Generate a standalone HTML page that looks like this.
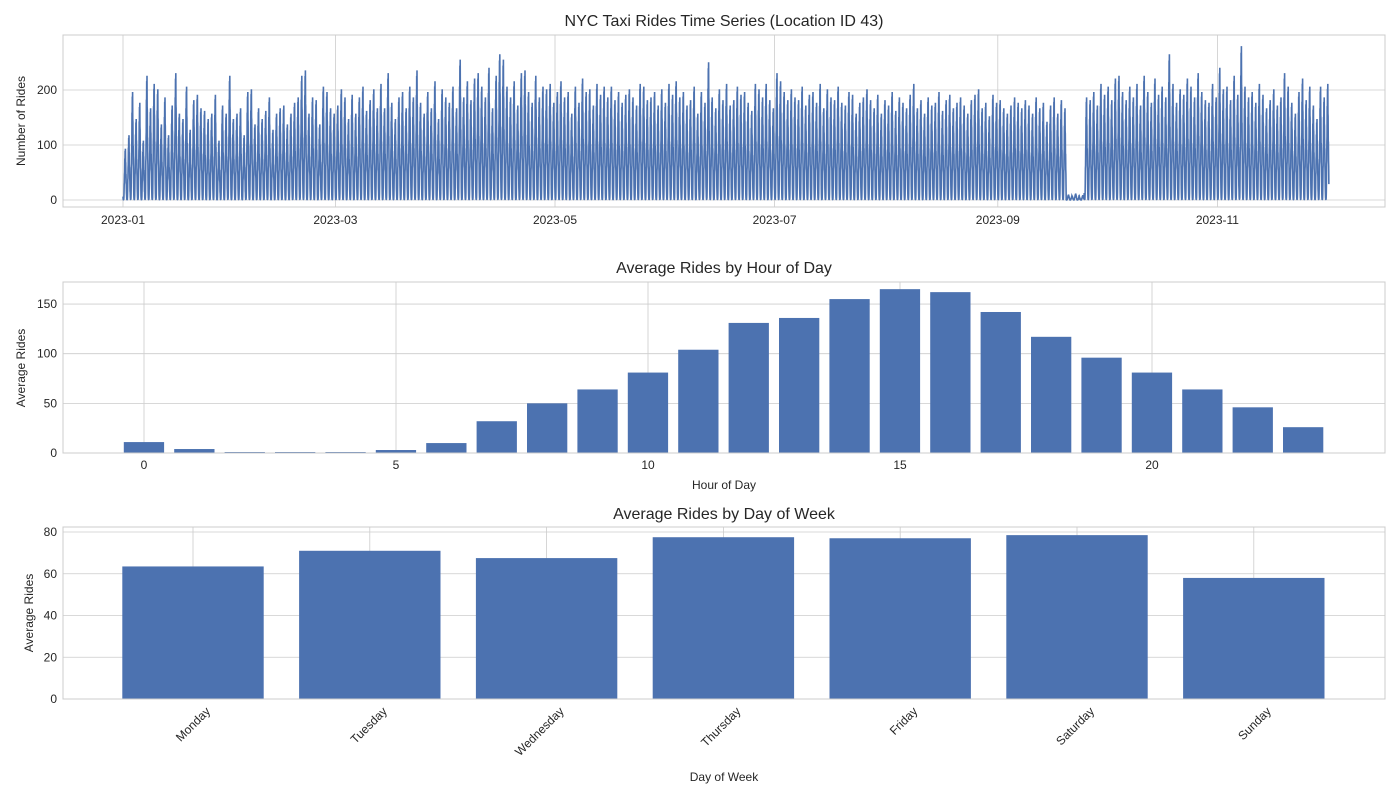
<!DOCTYPE html>
<html><head><meta charset="utf-8"><style>
body{margin:0;background:#fff;font-family:"Liberation Sans",sans-serif;}
svg text{font-family:"Liberation Sans",sans-serif;fill:#262626;}
</style></head><body>
<svg id="c" width="1400" height="800"></svg>
<script>
const hourLabels=[0,5,10,15,20];
const hourValues=[11,4,1,1,1,3,10,32,50,64,81,104,131,136,155,165,162,142,117,96,81,64,46,26];
const dayNames=["Monday","Tuesday","Wednesday","Thursday","Friday","Saturday","Sunday"];
const dayValues=[63.5,71,67.5,77.5,77,78.5,58];
const tsTickLabels=["2023-01","2023-03","2023-05","2023-07","2023-09","2023-11"];
const tsTickDays=[0,59,120,181,243,304];
const dailyPeaks=[95,120,200,150,180,110,230,170,215,205,140,190,120,175,235,160,150,210,130,185,195,170,165,150,160,195,110,175,160,230,
150,160,170,120,200,205,140,170,150,165,190,130,160,170,175,140,160,180,190,230,240,160,190,185,140,210,200,170,160,175,
205,190,150,195,160,190,210,165,185,205,170,215,170,235,180,150,190,200,170,210,190,240,180,160,200,170,220,150,205,190,
180,210,170,260,190,220,185,225,235,210,190,245,170,230,270,260,210,190,220,175,235,240,200,180,230,190,210,205,215,180,
200,220,190,200,160,210,180,225,200,205,175,215,195,210,190,210,185,200,180,195,205,190,175,215,210,185,190,200,175,205,
180,215,195,220,190,200,175,185,210,160,200,180,255,190,170,205,185,215,175,185,210,195,200,180,165,215,205,190,215,185,
170,235,220,200,185,205,190,185,210,175,195,200,180,215,170,205,190,185,210,180,175,200,195,160,180,190,205,185,170,195,
160,185,175,200,165,190,180,170,195,215,170,185,160,190,175,180,200,165,185,195,170,180,190,175,160,185,195,205,170,180,
155,195,180,185,170,160,175,190,180,170,185,175,160,190,170,180,145,175,190,160,185,170,10,8,12,6,9,190,185,200,175,215,195,210,185,
225,230,200,185,210,190,215,175,230,200,180,225,195,210,190,270,215,180,205,195,225,210,190,235,200,185,180,215,190,245,
205,210,185,230,195,285,210,190,200,180,215,195,170,185,205,175,190,235,210,180,160,200,225,185,210,175,150,210,190,215];
const NS="http://www.w3.org/2000/svg";
const svg=document.getElementById('c');
function el(t,a,p){const e=document.createElementNS(NS,t);for(const k in a)e.setAttribute(k,a[k]);(p||svg).appendChild(e);return e;}
function txt(x,y,s,sz,anchor,name,extra){const t=el('text',Object.assign({x:x,y:y,'font-size':sz,'text-anchor':anchor||'middle'},extra||{}));t.textContent=s;return t;}
const L=63,R=1385,BLUE="#4c72b0",GRID="#cccccc";
function frame(top,bot,name){const r=el('rect',{x:L,y:top,width:R-L,height:bot-top,fill:'none',stroke:GRID,'stroke-width':1});}
function hgrid(y){el('line',{x1:L,x2:R,y1:y,y2:y,stroke:GRID,'stroke-width':0.8});}
function vgrid(x,t,b){el('line',{x1:x,x2:x,y1:t,y2:b,stroke:GRID,'stroke-width':0.8});}

// Panel 1
const t1=35,b1=207;
const ty=v=>200-v*0.55;
const tx=d=>123+d*3.6;
[0,100,200].forEach(v=>{hgrid(ty(v));txt(57,ty(v)+4,String(v),12,'end','ts-y-tick');});
tsTickDays.forEach((d,i)=>{vgrid(tx(d),t1,b1);txt(tx(d),224,tsTickLabels[i],12,'middle','ts-x-tick');});
let pts=[];
dailyPeaks.forEach((pk,d)=>{
  hourValues.forEach((hv,h)=>{
    const v=hv/165*pk*(h%2?0.85:1);
    pts.push(tx(d+h/24).toFixed(2)+','+ty(v).toFixed(2));
  });
});
const ln=el('polyline',{points:pts.join(' '),fill:'none',stroke:BLUE,'stroke-width':1.6});

frame(t1,b1,'ts-axes');
txt(724,26,'NYC Taxi Rides Time Series (Location ID 43)',16,'middle','ts-title');
txt(25,121,'Number of Rides',12,'middle','ts-y-title',{transform:'rotate(-90 25 121)'});

// Panel 2
const t2=282,b2=453;
const hy=v=>453-v*0.993;
const hx=h=>144+h*50.4;
[0,50,100,150].forEach(v=>{hgrid(hy(v));txt(57,hy(v)+4,String(v),12,'end','hour-y-tick');});
hourLabels.forEach(h=>{vgrid(hx(h),t2,b2);txt(hx(h),469,String(h),12,'middle','hour-x-tick');});
hourValues.forEach((v,h)=>{const r=el('rect',{x:hx(h)-20.2,y:hy(v),width:40.3,height:v*0.993,fill:BLUE});
});
frame(t2,b2,'hour-axes');
txt(724,273,'Average Rides by Hour of Day',16,'middle','hour-title');
txt(724,489,'Hour of Day',12,'middle','hour-x-title');
txt(25,368,'Average Rides',12,'middle','hour-y-title',{transform:'rotate(-90 25 368)'});

// Panel 3
const t3=527,b3=699;
const dy=v=>699-v*2.0875;
const dx=i=>193+i*176.8;
[0,20,40,60,80].forEach(v=>{hgrid(dy(v));txt(57,dy(v)+4,String(v),12,'end','day-y-tick');});
dayNames.forEach((n,i)=>{vgrid(dx(i),t3,b3);txt(dx(i)+18,712,n,12,'end','day-x-tick',{transform:'rotate(-45 '+(dx(i)+18)+' 712)'});});
dayValues.forEach((v,i)=>{const r=el('rect',{x:dx(i)-70.7,y:dy(v),width:141.4,height:v*2.0875,fill:BLUE});
});
frame(t3,b3,'day-axes');
txt(724,519,'Average Rides by Day of Week',16,'middle','day-title');
txt(724,781,'Day of Week',12,'middle','day-x-title');
txt(33,613,'Average Rides',12,'middle','day-y-title',{transform:'rotate(-90 33 613)'});
</script>
</body></html>
